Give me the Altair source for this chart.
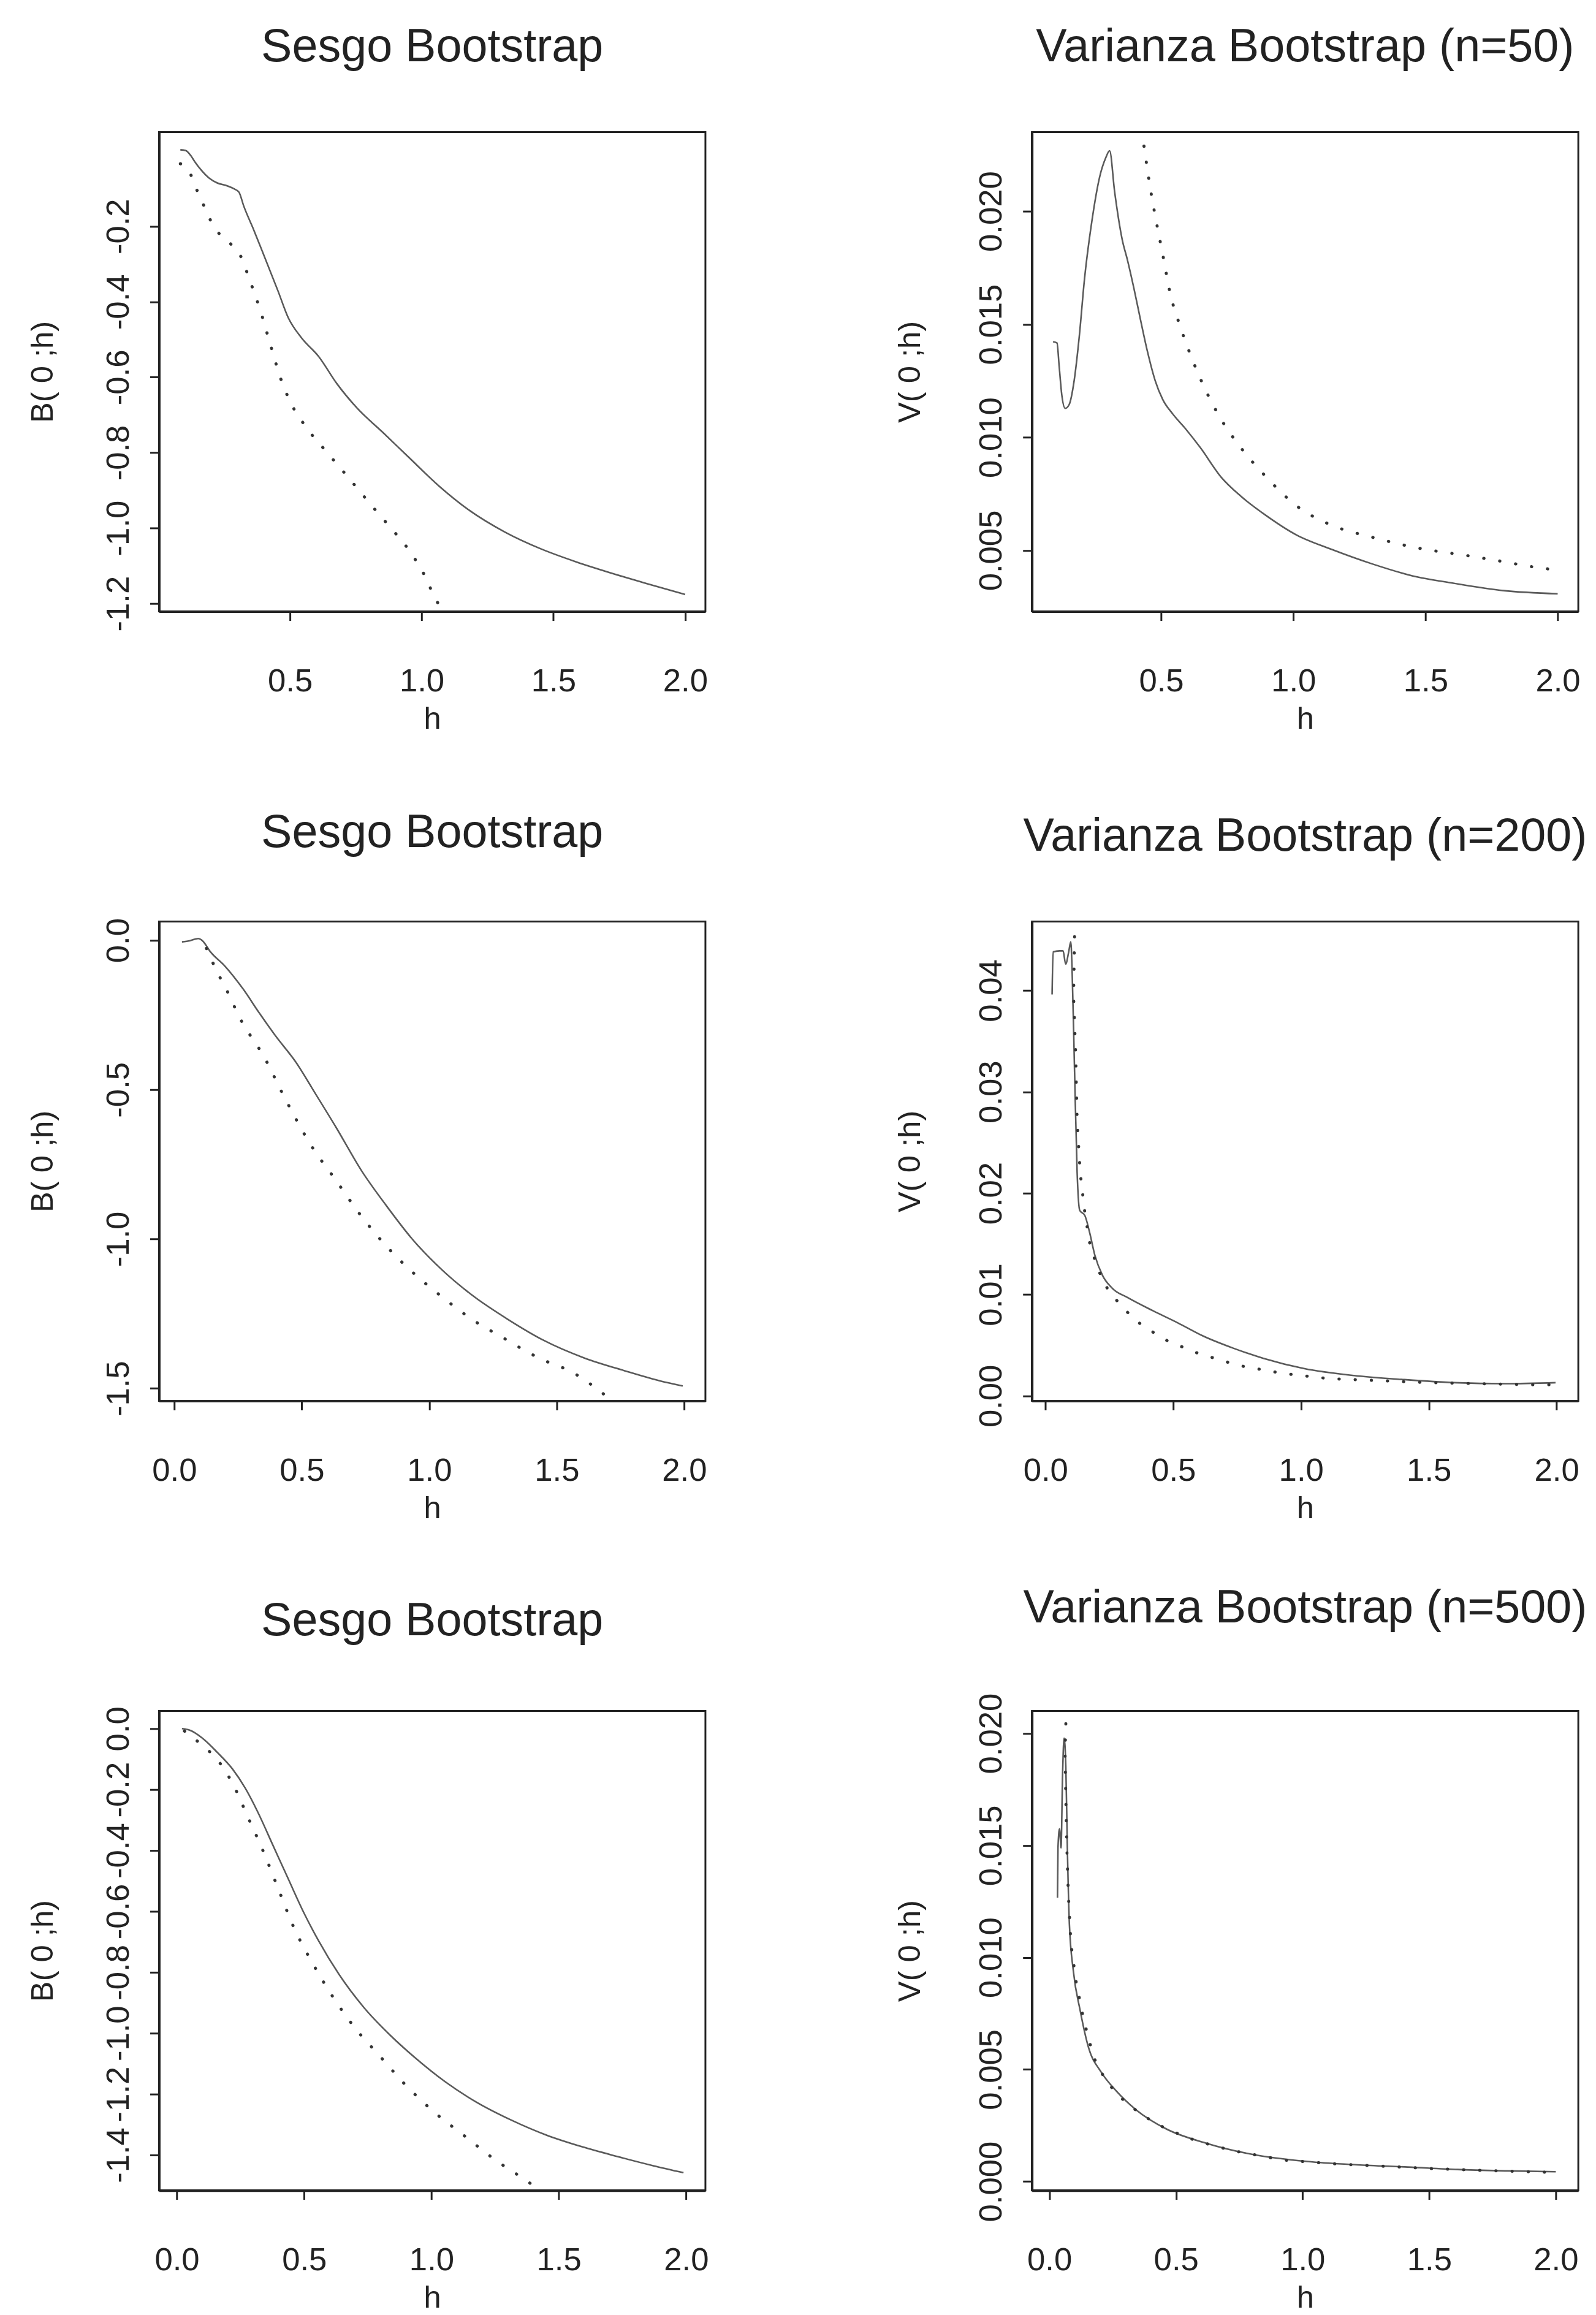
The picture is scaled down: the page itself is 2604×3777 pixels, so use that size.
import altair as alt
import pandas as pd

FONT = "Liberation Sans"
INK = "#222222"
W, H = 897, 787

titles = ["Sesgo Bootstrap", "Varianza Bootstrap (n=50)",
          "Sesgo Bootstrap", "Varianza Bootstrap (n=200)",
          "Sesgo Bootstrap", "Varianza Bootstrap (n=500)"]
y_titles = ["B( 0 ;h)", "V( 0 ;h)", "B( 0 ;h)", "V( 0 ;h)", "B( 0 ;h)", "V( 0 ;h)"]
x_title = "h"

# ---- Panel 1: Sesgo (n=50)
p1_sol_h = [0.084, 0.104, 0.123, 0.139, 0.162, 0.193, 0.224, 0.263, 0.286, 0.306, 0.325, 0.364,
            0.395, 0.455, 0.494, 0.543, 0.61, 0.678, 0.755, 0.852, 0.949, 1.065, 1.181, 1.317,
            1.452, 1.588, 1.723, 1.859, 2.0]
p1_sol_v = [0.003, 0.001, -0.012, -0.029, -0.05, -0.072, -0.085, -0.093, -0.1, -0.109, -0.147, -0.212,
            -0.266, -0.372, -0.443, -0.495, -0.546, -0.617, -0.682, -0.746, -0.811, -0.888, -0.953, -1.011,
            -1.055, -1.09, -1.12, -1.148, -1.176]
p1_dot_h = [0.084, 0.119, 0.139, 0.162, 0.182, 0.207, 0.238, 0.28, 0.31, 0.349, 0.388, 0.426, 0.465,
            0.504, 0.562, 0.639, 0.717, 0.794, 0.872, 0.949, 1.007, 1.055, 1.084]
p1_dot_v = [-0.034, -0.056, -0.092, -0.126, -0.16, -0.195, -0.225, -0.25, -0.275, -0.346, -0.424, -0.514,
            -0.604, -0.669, -0.733, -0.798, -0.862, -0.927, -0.991, -1.056, -1.12, -1.191, -1.223]

# ---- Panel 2: Varianza (n=50)
p2_sol_h = [0.091, 0.106, 0.114, 0.124, 0.137, 0.152, 0.171, 0.19, 0.21, 0.238, 0.267, 0.29, 0.305,
            0.324, 0.353, 0.372, 0.397, 0.42, 0.448, 0.477, 0.506, 0.544, 0.592, 0.649, 0.726, 0.802,
            0.897, 1.012, 1.146, 1.299, 1.452, 1.605, 1.796, 2.0]
p2_sol_v = [0.01423, 0.01417, 0.01316, 0.01188, 0.01128, 0.01145, 0.01252, 0.01444, 0.01701, 0.01957,
            0.0215, 0.02235, 0.02267, 0.02085, 0.01872, 0.01786, 0.01658, 0.0153, 0.0138, 0.01252,
            0.01167, 0.01103, 0.01038, 0.00953, 0.00825, 0.00739, 0.00654, 0.00568, 0.00504, 0.0044,
            0.00387, 0.00355, 0.00322, 0.00308]
p2_dot_h = [0.435, 0.458, 0.481, 0.506, 0.534, 0.573, 0.62, 0.668, 0.726, 0.802, 0.897, 1.012, 1.146,
            1.299, 1.452, 1.684, 1.795, 1.906, 1.964]
p2_dot_v = [0.02288, 0.02107, 0.01957, 0.01808, 0.01637, 0.01487, 0.01338, 0.01209, 0.01081, 0.00953,
            0.00825, 0.00697, 0.00611, 0.00558, 0.00515, 0.00472, 0.0045, 0.00427, 0.00418]

# ---- Panel 3: Sesgo (n=200)
p3_sol_h = [0.03, 0.062, 0.094, 0.11, 0.142, 0.198, 0.269, 0.333, 0.397, 0.476, 0.556, 0.635, 0.734,
            0.833, 0.933, 1.052, 1.171, 1.31, 1.448, 1.607, 1.766, 1.905, 1.994]
p3_sol_v = [-0.005, -0.001, 0.006, -0.001, -0.039, -0.086, -0.162, -0.243, -0.32, -0.407, -0.517, -0.627,
            -0.771, -0.89, -1.0, -1.105, -1.19, -1.27, -1.339, -1.398, -1.441, -1.475, -1.492]
p3_dot_h = [0.126, 0.15, 0.174, 0.2, 0.224, 0.247, 0.357, 0.437, 0.536, 0.635, 0.734, 0.833, 0.933,
            1.052, 1.171, 1.29, 1.429, 1.567, 1.706]
p3_dot_v = [-0.027, -0.073, -0.116, -0.157, -0.2, -0.243, -0.398, -0.534, -0.686, -0.805, -0.924, -1.025,
            -1.11, -1.195, -1.271, -1.331, -1.398, -1.449, -1.534]

# ---- Panel 4: Varianza (n=200)
p4_sol_h = [0.026, 0.03, 0.055, 0.069, 0.079, 0.091, 0.099, 0.104, 0.114, 0.124, 0.134, 0.154, 0.173,
            0.193, 0.223, 0.262, 0.321, 0.42, 0.518, 0.617, 0.735, 0.853, 1.011, 1.208, 1.405, 1.602,
            1.799, 1.996]
p4_sol_v = [0.0396, 0.0438, 0.0439, 0.0439, 0.0426, 0.0438, 0.0448, 0.0423, 0.0319, 0.022, 0.0183, 0.0178,
            0.0161, 0.0139, 0.0119, 0.0106, 0.0097, 0.0084, 0.0072, 0.0059, 0.0047, 0.0037, 0.0027, 0.002,
            0.0016, 0.0013, 0.0012, 0.0013]
p4_dot_h = [0.114, 0.11, 0.118, 0.124, 0.136, 0.154, 0.173, 0.203, 0.242, 0.301, 0.38, 0.479, 0.597,
            0.755, 0.932, 1.109, 1.306, 1.503, 1.7, 1.898, 1.996]
p4_dot_v = [0.0453, 0.0394, 0.0339, 0.027, 0.022, 0.0181, 0.0151, 0.0126, 0.0106, 0.0087, 0.0069, 0.0054,
            0.0042, 0.003, 0.0022, 0.0017, 0.0015, 0.0013, 0.0012, 0.0011, 0.0011]

# ---- Panel 5: Sesgo (n=500)
p5_sol_h = [0.02, 0.05, 0.1, 0.159, 0.219, 0.269, 0.318, 0.378, 0.438, 0.498, 0.557, 0.637, 0.736,
            0.836, 0.935, 1.055, 1.174, 1.313, 1.453, 1.592, 1.731, 1.871, 1.99]
p5_sol_v = [0.0, -0.005, -0.031, -0.078, -0.133, -0.196, -0.274, -0.384, -0.494, -0.603, -0.697, -0.807,
            -0.917, -1.005, -1.08, -1.16, -1.225, -1.285, -1.335, -1.373, -1.405, -1.435, -1.458]
p5_dot_h = [0.03, 0.1, 0.159, 0.219, 0.279, 0.338, 0.398, 0.458, 0.537, 0.617, 0.697, 0.796, 0.896,
            1.015, 1.134, 1.254, 1.353, 1.423]
p5_dot_v = [-0.008, -0.055, -0.102, -0.18, -0.29, -0.4, -0.525, -0.65, -0.776, -0.886, -0.98, -1.074,
            -1.168, -1.262, -1.34, -1.418, -1.473, -1.513]

# ---- Panel 6: Varianza (n=500)
p6_sol_h = [0.032, 0.034, 0.04, 0.046, 0.052, 0.058, 0.065, 0.071, 0.079, 0.095, 0.121, 0.155, 0.204,
            0.264, 0.343, 0.462, 0.621, 0.819, 1.018, 1.216, 1.415, 1.613, 1.812, 2.0]
p6_sol_v = [0.01266, 0.01489, 0.01574, 0.01489, 0.01809, 0.01979, 0.01851, 0.01489, 0.01149, 0.00936,
            0.00766, 0.00596, 0.00489, 0.00404, 0.00319, 0.00234, 0.0017, 0.00117, 0.00089, 0.00074,
            0.00064, 0.00053, 0.00047, 0.00043]
p6_dot_h = [0.065, 0.062, 0.065, 0.069, 0.075, 0.085, 0.105, 0.135, 0.175, 0.224, 0.284, 0.363, 0.462,
            0.581, 0.72, 0.919, 1.117, 1.315, 1.514, 1.712, 2.0]
p6_dot_v = [0.02043, 0.01915, 0.01702, 0.01489, 0.01277, 0.01064, 0.00894, 0.00723, 0.00553, 0.00447,
            0.00372, 0.00298, 0.00234, 0.00181, 0.00138, 0.00096, 0.00079, 0.00068, 0.00057, 0.00049,
            0.0004]

# axis domains and ticks
x_domains = [[0.003, 2.077], [0.011, 2.078], [-0.06, 2.083], [-0.053, 2.085], [-0.07, 2.076], [-0.069, 2.089]]
y_domains = [[-1.221, 0.05], [0.0023, 0.0235], [-1.542, 0.063], [-0.0005, 0.0468], [-1.516, 0.058], [-0.0004, 0.021]]
x_ticks = [[0.5, 1.0, 1.5, 2.0], [0.5, 1.0, 1.5, 2.0]] + [[0.0, 0.5, 1.0, 1.5, 2.0]] * 4
y_ticks = [[-1.2, -1.0, -0.8, -0.6, -0.4, -0.2],
           [0.005, 0.010, 0.015, 0.020],
           [-1.5, -1.0, -0.5, 0.0],
           [0.0, 0.01, 0.02, 0.03, 0.04],
           [-1.4, -1.2, -1.0, -0.8, -0.6, -0.4, -0.2, 0.0],
           [0.0, 0.005, 0.010, 0.015, 0.020]]
y_formats = [".1f", ".3f", ".1f", ".2f", ".1f", ".3f"]
y_title_x = [-175, -184, -175, -184, -175, -184]
dot_interp = ["monotone", "monotone", "monotone", "linear", "monotone", "linear"]

MINUS_FIX = "replace(datum.label, '\u2212', '-')"


def panel(k, sol_h, sol_v, dot_h, dot_v):
    sol = pd.DataFrame({"h": sol_h, "v": sol_v, "i": list(range(len(sol_h)))})
    dot = pd.DataFrame({"h": dot_h, "v": dot_v, "i": list(range(len(dot_h)))})
    x = alt.X("h:Q",
              scale=alt.Scale(domain=x_domains[k], nice=False, zero=False),
              axis=alt.Axis(values=x_ticks[k], format=".1f", title=x_title, grid=False,
                            labelFontSize=53, labelFont=FONT, labelColor=INK,
                            labelBaseline="alphabetic", labelPadding=116, labelFlush=False,
                            labelOverlap=False, tickSize=15, tickWidth=3, tickColor=INK,
                            domainColor=INK, domainWidth=4,
                            titleFontSize=51, titleFont=FONT, titleFontWeight="normal",
                            titleColor=INK, titleBaseline="alphabetic", titleY=192))
    y = alt.Y("v:Q",
              scale=alt.Scale(domain=y_domains[k], nice=False, zero=False),
              axis=alt.Axis(values=y_ticks[k], format=y_formats[k], labelExpr=MINUS_FIX,
                            title=y_titles[k], grid=False,
                            labelFontSize=53, labelFont=FONT, labelColor=INK,
                            labelAngle=270, labelAlign="center", labelBaseline="alphabetic",
                            labelPadding=35, labelFlush=False, labelOverlap=False,
                            tickSize=15, tickWidth=3, tickColor=INK,
                            domainColor=INK, domainWidth=4,
                            titleFontSize=51, titleFont=FONT, titleFontWeight="normal",
                            titleColor=INK, titleAngle=270, titleAlign="center",
                            titleBaseline="alphabetic", titleX=y_title_x[k], titleY=H / 2))
    solid = alt.Chart(sol).mark_line(color="#5a5a5a", strokeWidth=2.6, clip=True,
                                     interpolate="monotone").encode(x=x, y=y, order="i:Q")
    dotted = alt.Chart(dot).mark_line(color="#333333", strokeWidth=5, strokeDash=[0.5, 26],
                                      strokeCap="round", clip=True,
                                      interpolate=dot_interp[k]).encode(x=x, y=y, order="i:Q")
    return alt.layer(solid, dotted).properties(
        width=W, height=H,
        title=alt.TitleParams(text=titles[k], fontSize=76, font=FONT, fontWeight="normal",
                              color=INK, anchor="middle", frame="group",
                              baseline="alphabetic", offset=40))


panels = [
    panel(0, p1_sol_h, p1_sol_v, p1_dot_h, p1_dot_v),
    panel(1, p2_sol_h, p2_sol_v, p2_dot_h, p2_dot_v),
    panel(2, p3_sol_h, p3_sol_v, p3_dot_h, p3_dot_v),
    panel(3, p4_sol_h, p4_sol_v, p4_dot_h, p4_dot_v),
    panel(4, p5_sol_h, p5_sol_v, p5_dot_h, p5_dot_v),
    panel(5, p6_sol_h, p6_sol_v, p6_dot_h, p6_dot_v),
]

chart = alt.ConcatChart(concat=panels, columns=2,
                        spacing={"row": 509, "column": 536}, bounds="flush")
chart = chart.configure(background="white",
                        padding={"left": 35, "top": 18, "right": 5, "bottom": 5}) \
    .configure_view(stroke=INK, strokeWidth=3)

chart.save("out.html", embed_options={"renderer": "svg", "actions": False})
